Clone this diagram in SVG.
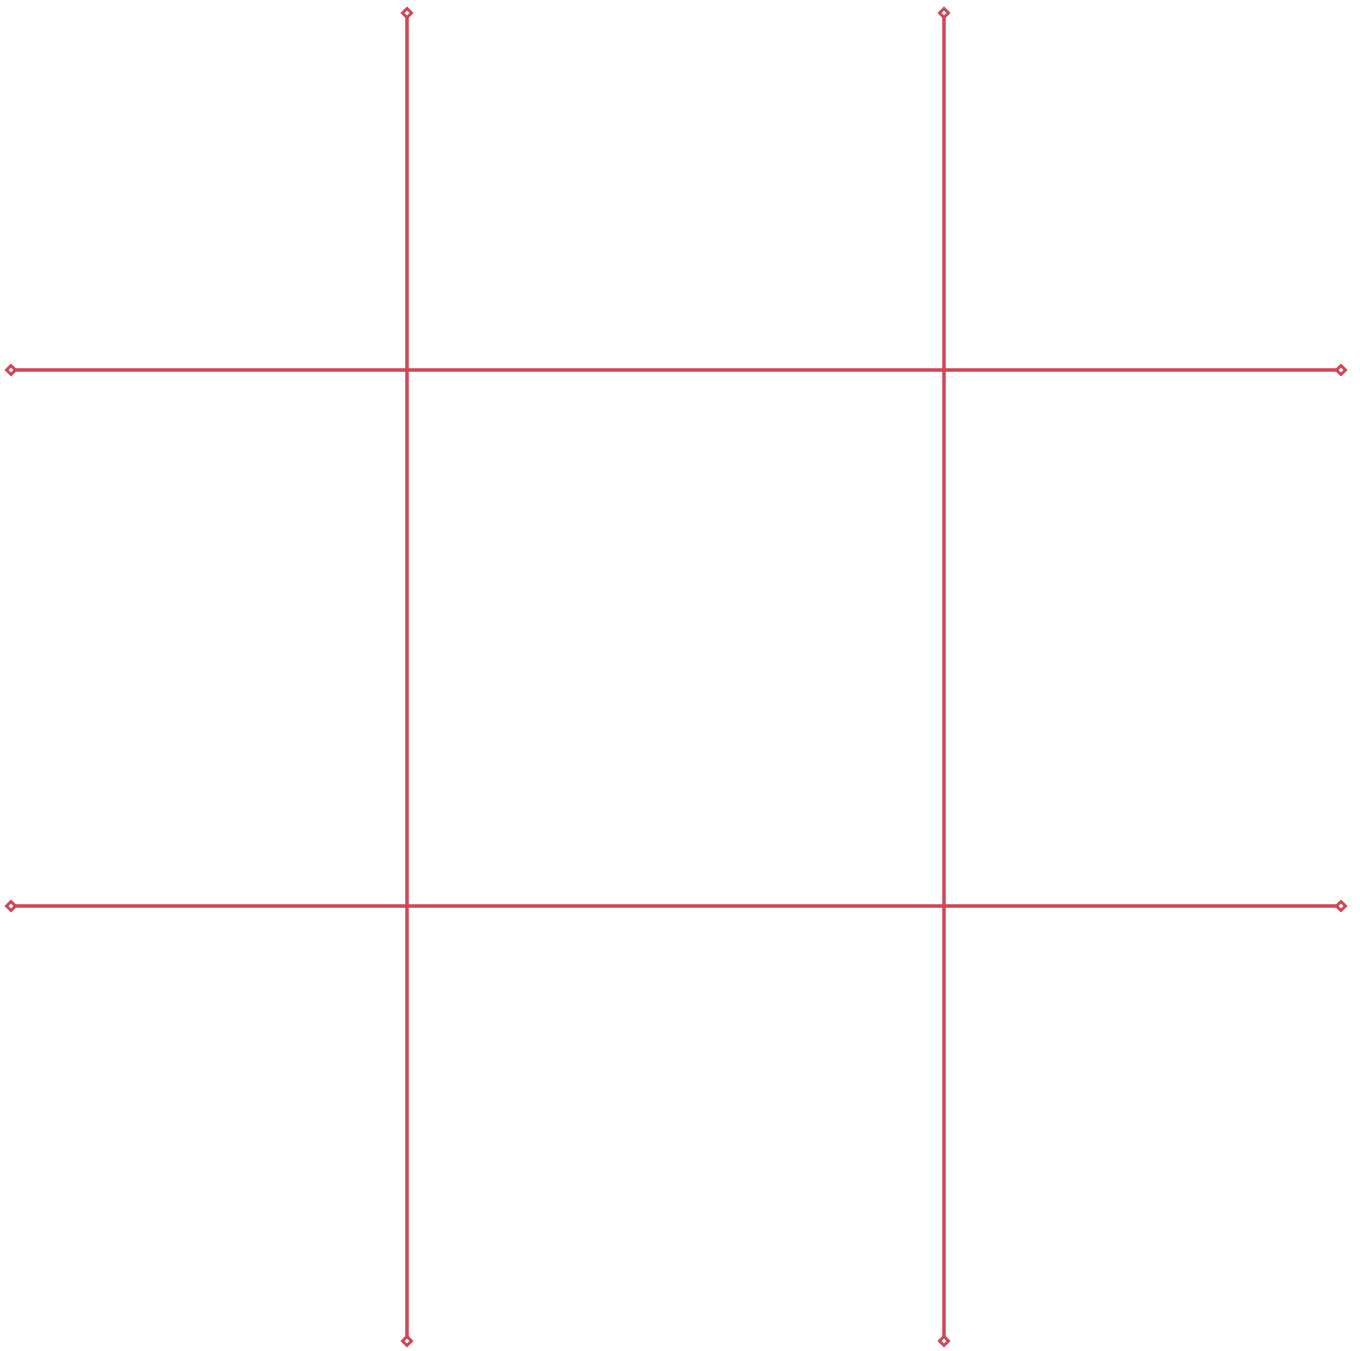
<svg xmlns="http://www.w3.org/2000/svg" width="1360" height="1351" viewBox="0 0 1360 1351">
<defs>
<style>
.ln{stroke:#d04555;stroke-width:3.5;fill:none}
.dm{stroke:#d04555;stroke-width:3;fill:#ffffff}
</style>
<marker id="dia" viewBox="-7 -7 14 14" markerWidth="14" markerHeight="14" refX="0" refY="0" markerUnits="userSpaceOnUse" orient="auto">
<path d="M-4.5 0 L0 -4.5 L4.5 0 L0 4.5 Z" class="dm"/>
</marker>
</defs>
<rect width="1360" height="1351" fill="#ffffff"/>
<g id="connectors">
<line class="ln" x1="407" y1="13" x2="407" y2="1341" marker-start="url(#dia)" marker-end="url(#dia)"/>
<line class="ln" x1="944" y1="13" x2="944" y2="1341" marker-start="url(#dia)" marker-end="url(#dia)"/>
<line class="ln" x1="11" y1="370" x2="1341" y2="370" marker-start="url(#dia)" marker-end="url(#dia)"/>
<line class="ln" x1="11" y1="906" x2="1341" y2="906" marker-start="url(#dia)" marker-end="url(#dia)"/>
</g>
</svg>
